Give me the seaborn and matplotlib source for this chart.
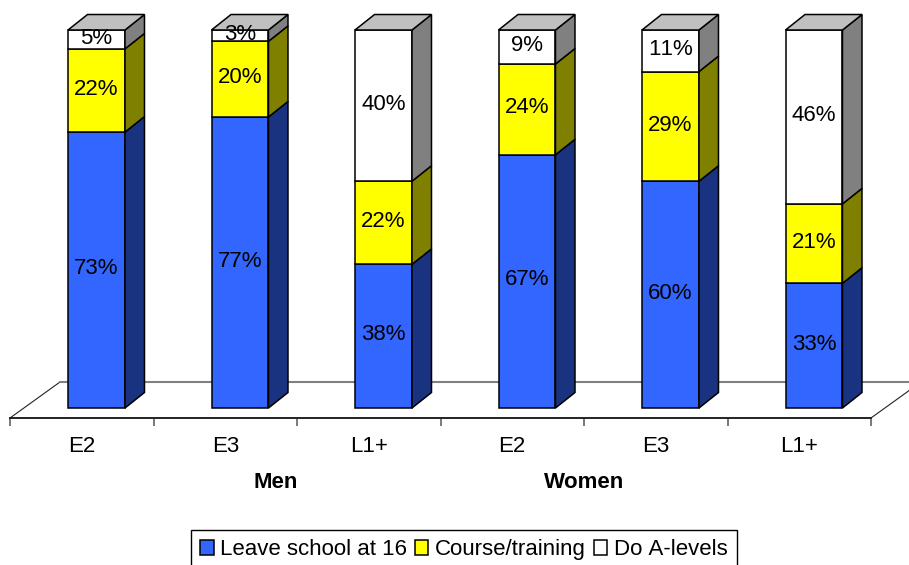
import matplotlib
matplotlib.use("Agg")
import matplotlib.pyplot as plt
import seaborn as sns

groups = ["Men E2", "Men E3", "Men L1+", "Women E2", "Women E3", "Women L1+"]
tick_labels = ["E2", "E3", "L1+", "E2", "E3", "L1+"]
leave_school = [73, 77, 38, 67, 60, 33]
course_training = [22, 20, 22, 24, 29, 21]
a_levels = [5, 3, 40, 9, 11, 46]
series_names = ["Leave school at 16", "Course/training", "Do A-levels"]

front_colors = ["#3366FF", "#FFFF00", "#FFFFFF"]
side_colors = ["#1A3380", "#808000", "#808080"]
top_color = "#C0C0C0"

sns.set_theme(style="white")
plt.rcParams["font.family"] = ["Liberation Sans", "DejaVu Sans"]
plt.rcParams["text.color"] = "black"
plt.rcParams["text.kerning_factor"] = 6
FS = 16
EDGE = 1.1

W, H = 909, 565
fig = plt.figure(figsize=(W / 100, H / 100), dpi=100)
# axes: x 10..871 px, y 418..5 px
ax = fig.add_axes([10 / W, 1 - 418 / H, 861 / W, 413 / H])

px_x = 143.5  # pixels per category
px_y = 3.78   # pixels per percent
bar_w = 0.397
dx, dy = 19.5 / px_x, 15.5 / px_y  # depth of the bars
left = -86.5 / px_x

# front faces and 3d sides
bottoms = [0] * len(groups)
for vals, name, front, side in zip([leave_school, course_training, a_levels],
                                   series_names, front_colors, side_colors):
    sns.barplot(x=groups, y=vals, bottom=bottoms, order=groups, color=front, saturation=1,
                width=bar_w, edgecolor="black", linewidth=EDGE, ax=ax, zorder=3)
    for i, (v, b) in enumerate(zip(vals, bottoms)):
        r = i + bar_w / 2
        ax.fill([r, r + dx, r + dx, r], [b, b + dy, b + v + dy, b + v],
                facecolor=side, edgecolor="black", linewidth=EDGE, zorder=3, clip_on=False)
        ax.annotate(f"{v}%", (i, b + v / 2), xytext=(0, 1), textcoords="offset points",
                    ha="center", va="center", fontsize=FS, color="black", zorder=6)
    bottoms = [b + v for b, v in zip(bottoms, vals)]

for i, t in enumerate(bottoms):
    l, r = i - bar_w / 2, i + bar_w / 2
    ax.fill([l, r, r + dx, l + dx], [t, t, t + dy, t + dy],
            facecolor=top_color, edgecolor="black", linewidth=EDGE, zorder=3, clip_on=False)

ax.set_xlim(left, left + 6)
ax.set_ylim(-10 / px_y, 403 / px_y)

# floor of the 3d box
floor_dx, floor_dy = 50 / px_x, 36 / px_y
y0 = -10 / px_y
ax.plot([left, left + floor_dx], [y0, y0 + floor_dy], color="#222222", lw=0.8, zorder=1, clip_on=False)
ax.plot([left + 6, left + 6 + floor_dx], [y0, y0 + floor_dy], color="#222222", lw=0.8, zorder=1, clip_on=False)
ax.plot([left + floor_dx, left + 6 + floor_dx], [y0 + floor_dy, y0 + floor_dy],
        color="#808080", lw=1.5, zorder=1, clip_on=False)

sns.despine(ax=ax, left=True, top=True, right=True)
ax.spines["bottom"].set_linewidth(1.4)
ax.spines["bottom"].set_color("#222222")
ax.set_yticks([])
ax.set_xlabel("")
ax.set_ylabel("")

ax.set_xticks([left + k for k in range(7)])
ax.set_xticklabels([])
ax.tick_params(axis="x", which="major", bottom=True, length=5.5, width=1.1, color="#555555")
ax.set_xticks([left + 0.5 + k for k in range(6)], labels=tick_labels, minor=True)
ax.tick_params(axis="x", which="minor", bottom=False, pad=9, labelsize=FS, labelcolor="black")

ax.text(1.25, -75 / px_y, "Men", fontsize=FS, fontweight="bold", color="black",
        ha="center", va="center", clip_on=False)
ax.text(3.40, -75 / px_y, "Women", fontsize=FS, fontweight="bold", color="black",
        ha="center", va="center", clip_on=False)

leg = ax.legend(ax.containers, series_names, loc="upper left", ncol=3,
                bbox_to_anchor=(191 / W, 1 - 530 / H), bbox_transform=fig.transFigure,
                fontsize=FS, frameon=True, fancybox=False, framealpha=1, edgecolor="black",
                borderaxespad=0, borderpad=0.42, handlelength=0.6, handleheight=0.6,
                handletextpad=0.3, columnspacing=0.35, labelcolor="black")
leg.get_frame().set_linewidth(1)

fig.savefig("out.png", dpi=100)
